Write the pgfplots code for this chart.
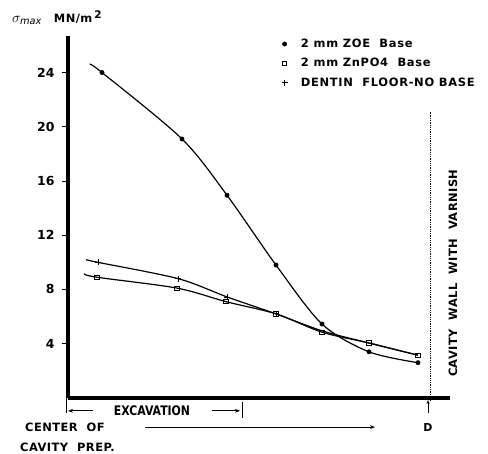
\documentclass[border=0pt]{standalone}
\usepackage{fontspec}
\setmainfont{DejaVu Sans}
\newfontfamily\lab[LetterSpace=4]{DejaVu Sans}
\newfontfamily\leg[LetterSpace=6]{DejaVu Sans}
\usepackage{pgfplots}
\pgfplotsset{compat=1.18}
\usetikzlibrary{arrows.meta}

% x: distance along the floor (0 = y axis, 362 = cavity wall D)
\pgfplotstableread{
x y
22 24.6
34 24.0
114 19.1
159 14.95
208 9.8
254 5.45
301 3.4
350 2.6
}\zoeline
\pgfplotstableread{
x y
34 24.0
114 19.1
159 14.95
208 9.8
254 5.45
301 3.4
350 2.6
}\zoe
\pgfplotstableread{
x y
16 9.15
29 8.9
109 8.1
158 7.1
208 6.2
254 4.85
301 4.05
350 3.15
}\znpoline
\pgfplotstableread{
x y
29 8.9
109 8.1
158 7.1
208 6.2
254 4.85
301 4.05
350 3.15
}\znpo
\pgfplotstableread{
x y
18 10.2
30 10.0
110 8.8
159 7.45
208 6.2
254 4.95
301 4.05
350 3.15
}\dentline
\pgfplotstableread{
x y
30 10.0
110 8.8
159 7.45
208 6.2
}\dent

\begin{document}
\begin{tikzpicture}
\begin{axis}[scale only axis,width=382bp,height=362bp,
  xmin=0,xmax=382,ymin=0,ymax=26.7,
  axis x line*=bottom,axis y line*=left,
  axis line style={line width=3.2pt,-},
  xtick=\empty,ytick={4,8,12,16,20,24},
  y tick style={line width=0.8pt,black},
  major tick length=6bp,tick align=outside,
  /pgf/number format/assume math mode=true,
  yticklabel style={font=\bfseries\fontsize{12.5}{14}\selectfont,xshift=-4bp},
  clip=false,
  legend style={draw=none,fill=none,at={(axis cs:210,26.78)},anchor=north west,
    font=\leg\bfseries\fontsize{11.5}{13}\selectfont,row sep=5.3bp,
    legend cell align=left},
  legend image code/.code={\draw[#1] plot coordinates {(0bp,0bp)};\path (-3bp,0bp) (14bp,0bp);}]
\addplot[black,line width=1.2pt,smooth,forget plot] table {\zoeline};
\addplot[black,line width=1.2pt,smooth,forget plot] table {\znpoline};
\addplot[black,line width=1.2pt,smooth,forget plot] table {\dentline};
\addplot[only marks,mark=*,mark size=2.2bp,black] table {\zoe};
\addlegendentry{2 mm ZOE\ \ Base}
\addplot[only marks,mark=square,mark size=2.2bp,black,fill=white,thick] table {\znpo};
\addlegendentry{2 mm ZnPO4\ \ Base}
\addplot[only marks,mark=+,mark size=3bp,black,thick] table {\dent};
\addlegendentry{DENTIN\ \ FLOOR-NO BASE}
% annotations
\draw[line width=1pt,dash pattern=on 1pt off 0.8pt] (axis cs:362,-0.2) -- (axis cs:362,21.1);
\node[rotate=90,font=\lab\bfseries\fontsize{11.5}{13}\selectfont] at (axis cs:385,9.2) {CAVITY\ \ WALL\ \ WITH\ \ VARNISH};
\node[anchor=west,inner sep=0pt] at (axis cs:-56,28.05) {\fontsize{14}{16}\selectfont$\sigma_{\mathit{max}}$\hspace{12bp}\lab\bfseries\fontsize{11.5}{13}\selectfont MN/m\,\raisebox{0.6ex}{\fontsize{10.5}{12}\selectfont 2}};
\node[font=\lab\bfseries\fontsize{11}{13}\selectfont] at (axis cs:360,-2.15) {D};
\draw[-{Stealth[length=4bp]},line width=0.7pt] (axis cs:360,-1.1) -- (axis cs:360,-0.15);
\node[anchor=west,inner sep=0pt,font=\lab\bfseries\fontsize{11.5}{13}\selectfont] at (axis cs:-43,-2.14) {CENTER\ \ OF};
\node[anchor=west,inner sep=0pt,font=\lab\bfseries\fontsize{11.5}{13}\selectfont] at (axis cs:-48,-3.61) {CAVITY\ \ PREP.};
\node[font=\bfseries\fontsize{11.5}{12}\selectfont,xscale=0.95,yscale=1.15] at (axis cs:84,-0.96) {EXCAVATION};
\draw[line width=0.7pt] (axis cs:-2,0) -- (axis cs:-2,-1.1);
\draw[-{Stealth[length=5bp]},line width=0.7pt] (axis cs:25,-0.95) -- (axis cs:0,-0.95);
\draw[-{Stealth[length=5bp]},line width=0.7pt] (axis cs:144,-0.95) -- (axis cs:172,-0.95);
\draw[line width=0.7pt] (axis cs:174,-0.3) -- (axis cs:174,-1.5);
\draw[-{Stealth[length=5bp]},line width=0.7pt] (axis cs:77,-2.15) -- (axis cs:307,-2.15);
\coordinate (bl) at (axis cs:-68,-4.13);
\coordinate (tr) at (axis cs:420,29.35);
\end{axis}
\pgfresetboundingbox
\path (bl) rectangle (tr);
\end{tikzpicture}
\end{document}
